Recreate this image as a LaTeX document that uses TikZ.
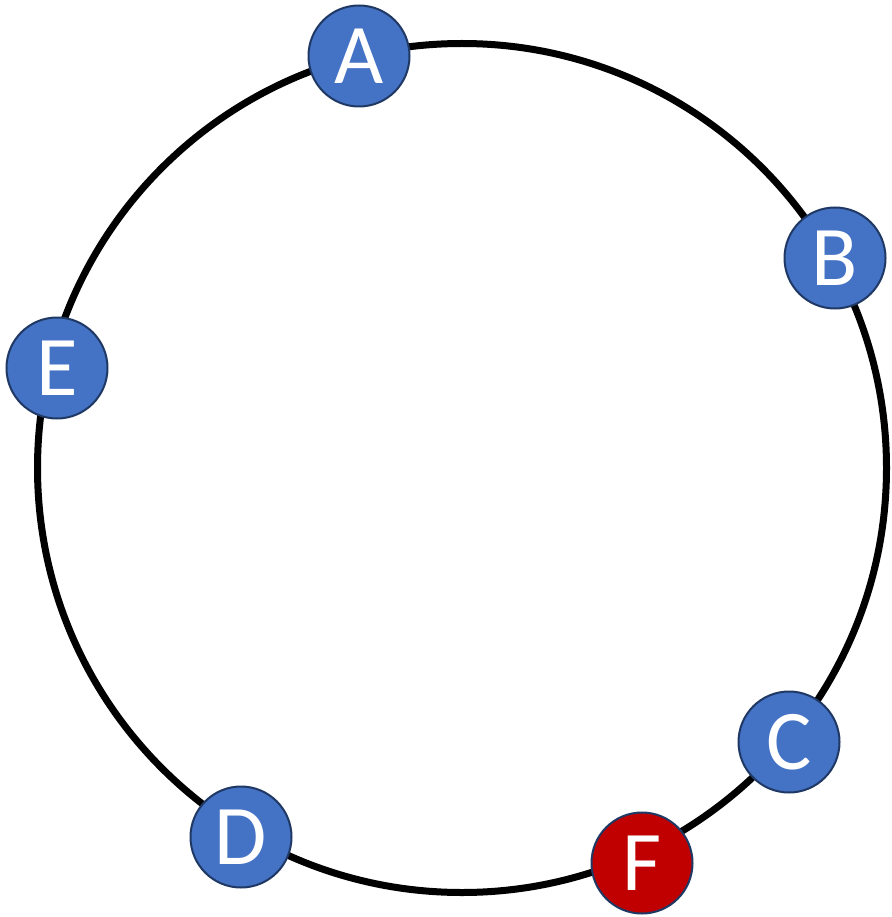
\documentclass[tikz,border=0pt]{standalone}
\usepackage{fontspec}
\setmainfont{Carlito}
\definecolor{nodeblue}{HTML}{4472C4}
\definecolor{nodered}{HTML}{C00000}
\definecolor{nodeedge}{HTML}{1F3864}
\begin{document}
\begin{tikzpicture}[x=1pt,y=-1pt,
  ringnode/.style={circle,draw=nodeedge,line width=2pt,fill=nodeblue,text=white,minimum size=101pt,inner sep=0pt,font=\fontsize{85}{85}\selectfont},
  rednode/.style={ringnode,fill=nodered}]
\useasboundingbox (0,0) rectangle (891,917);
\node[circle,draw=black,line width=7pt,minimum size=849pt,inner sep=0pt] (ring) at (462,468) {};
\node[ringnode] (A) at (359,56) {A};
\node[ringnode] (B) at (835,258) {B};
\node[ringnode] (E) at (57,368) {E};
\node[ringnode] (C) at (789,742) {C};
\node[rednode] (F) at (642,863) {F};
\node[ringnode] (D) at (241,837) {D};
\end{tikzpicture}
\end{document}
